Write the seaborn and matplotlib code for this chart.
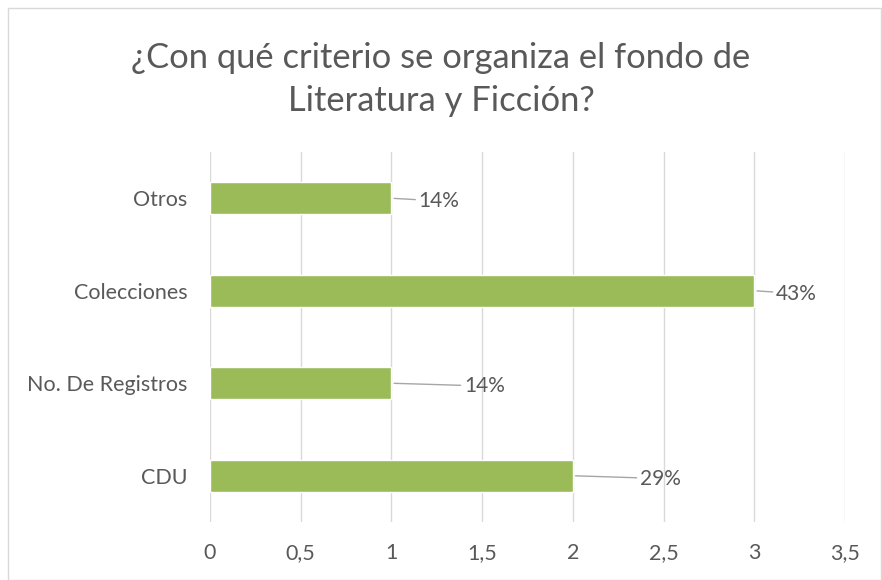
import numpy as np
import pandas as pd
import matplotlib.pyplot as plt
import seaborn as sns
from matplotlib.patches import Rectangle

categorias = ["Otros", "Colecciones", "No. De Registros", "CDU"]
valores = [1, 3, 1, 2]
porcentajes = ["14%", "43%", "14%", "29%"]
xticks = [0, 0.5, 1, 1.5, 2, 2.5, 3, 3.5]
xtick_labels = ["0", "0,5", "1", "1,5", "2", "2,5", "3", "3,5"]

# desplazamiento de las etiquetas (en unidades del eje x)
desplaz = [0.15, 0.12, 0.40, 0.37]

sns.set_style("white")
plt.rcParams["font.family"] = ["Lato", "DejaVu Sans"]
gris = "#595959"

df = pd.DataFrame({"categoria": categorias, "valor": valores})

fig = plt.figure(figsize=(8.82, 5.8), dpi=100)
ax = fig.add_axes([0.238, 0.1, 0.72, 0.638])

sns.barplot(data=df, x="valor", y="categoria", order=categorias,
            color="#9BBB59", width=0.35, saturation=1, ax=ax)

ax.set_xlim(0, 3.5)
ax.set_xticks(xticks)
ax.set_xticklabels(xtick_labels)
ax.grid(axis="x", color="#D9D9D9", linewidth=1)
ax.set_axisbelow(True)
for s in ax.spines.values():
    s.set_visible(False)
ax.set_xlabel("")
ax.set_ylabel("")
ax.tick_params(axis="both", length=0, labelsize=15.5, colors=gris)
ax.tick_params(axis="x", pad=15)
ax.tick_params(axis="y", pad=16)

for i, (v, p, d) in enumerate(zip(valores, porcentajes, desplaz)):
    ax.annotate(p, xy=(v, i), xytext=(v + d, i + 0.03),
                ha="left", va="center", fontsize=15, color=gris,
                arrowprops=dict(arrowstyle="-", color="#A6A6A6", lw=1,
                                shrinkA=0, shrinkB=2))

fig.text(0.5, 0.863, "¿Con qué criterio se organiza el fondo de\nLiteratura y Ficción?",
         ha="center", va="center", fontsize=24.8, color=gris, linespacing=1.4)

fig.patches.append(Rectangle((0.009, 0.0), 0.99, 0.986, transform=fig.transFigure,
                             fill=False, edgecolor="#D9D9D9", linewidth=1))

fig.savefig("out.png", dpi=100)
